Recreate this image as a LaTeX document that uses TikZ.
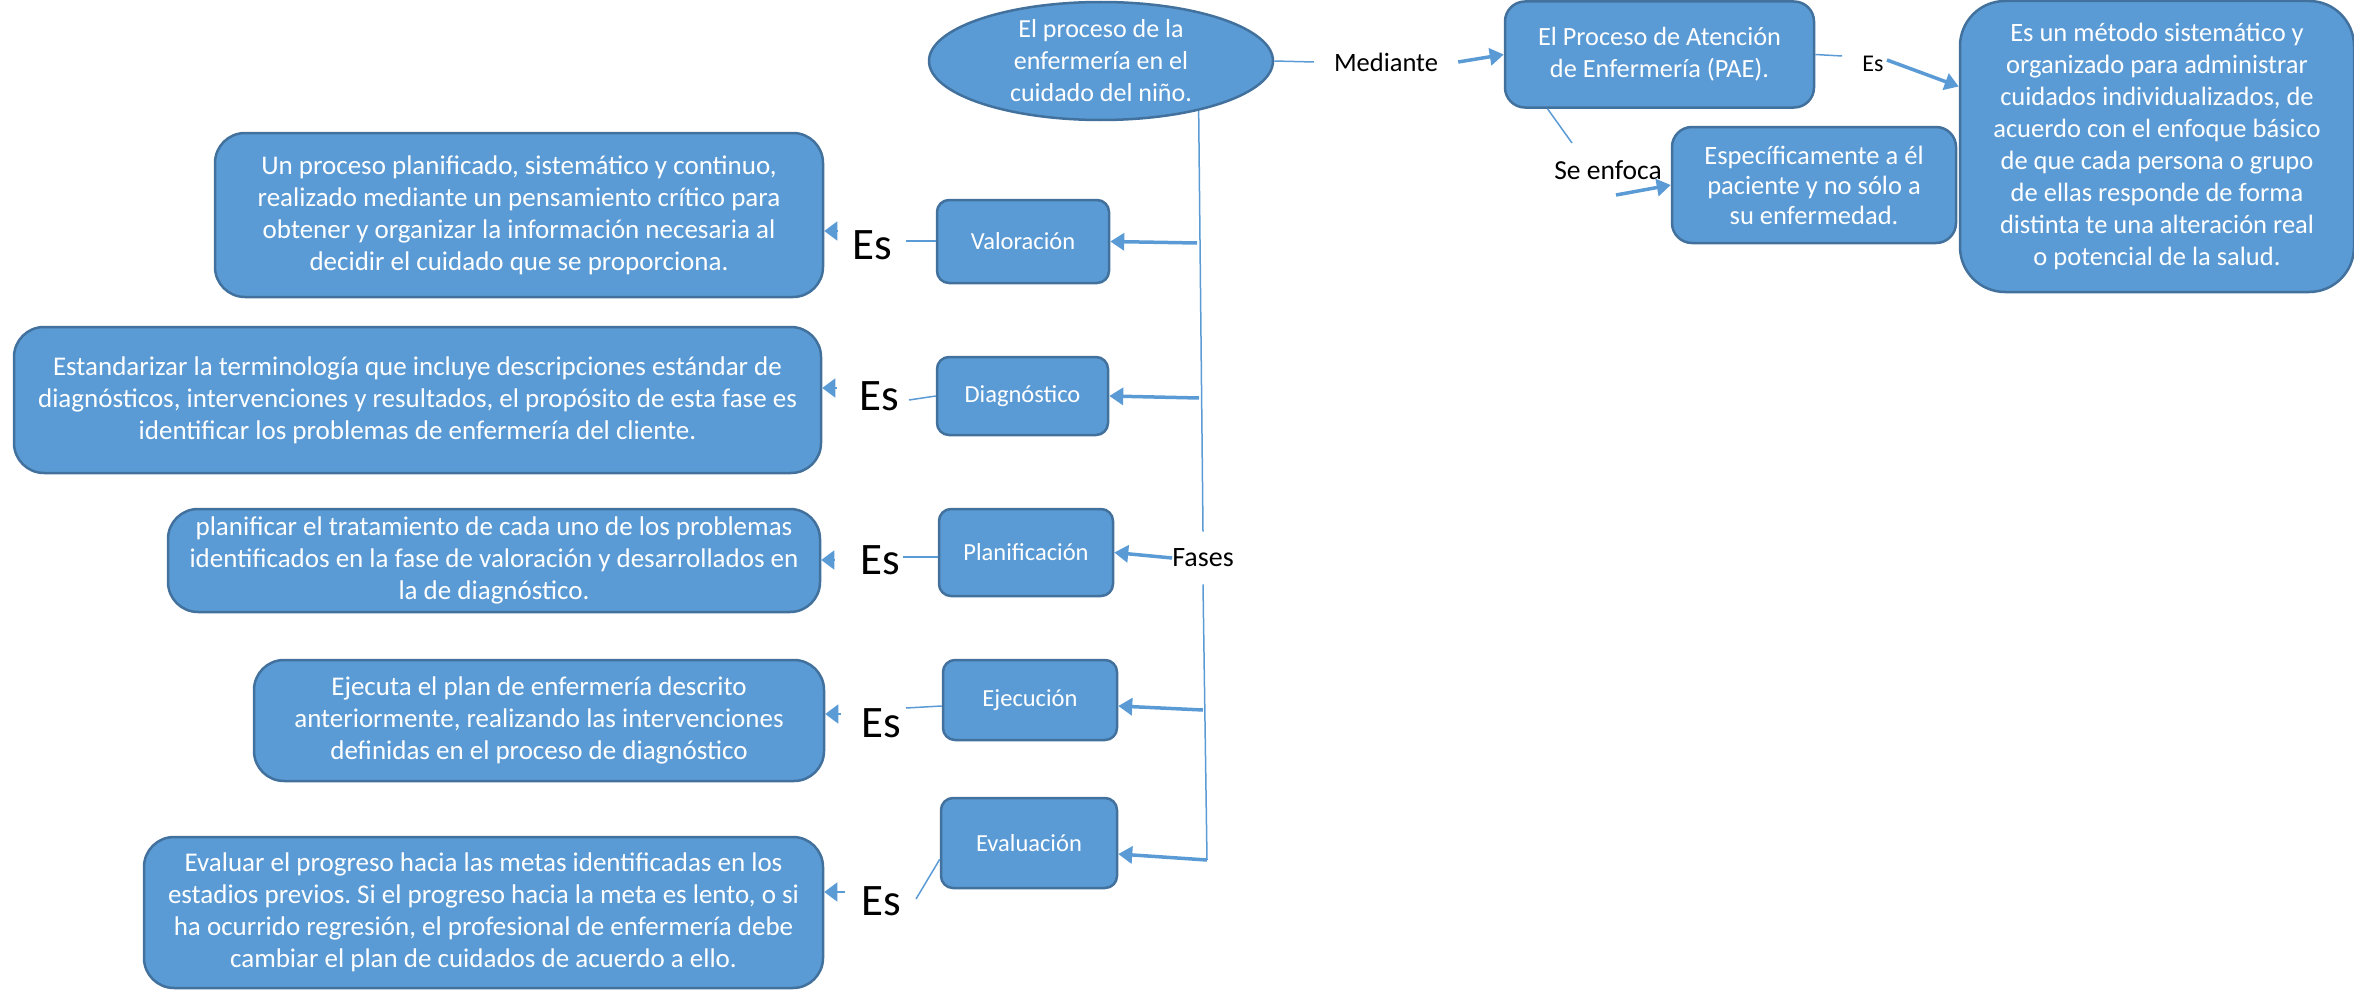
\documentclass[tikz,border=0pt]{standalone}
\usepackage{fontspec}
\setmainfont{Carlito}
\usetikzlibrary{shapes.geometric,arrows.meta,calc}
\definecolor{fillb}{RGB}{91,155,213}
\definecolor{edgeb}{RGB}{65,113,156}
\frenchspacing
\begin{document}
\begin{tikzpicture}[x=1pt,y=-1pt,
  box/.style={draw=edgeb, line width=2.5pt, fill=fillb, text=white, align=center, inner sep=0pt},
  descbox/.style={box, rounded corners=30pt, font=\fontsize{27}{32}\selectfont},
  phase/.style={box, rounded corners=12pt, font=\fontsize{24.5}{28}\selectfont},
  eslbl/.style={font=\fontsize{45}{48}\selectfont, inner sep=0pt},
  lbl/.style={font=\fontsize{26.5}{30}\selectfont, inner sep=0pt},
  thinline/.style={draw=fillb, line width=1.5pt},
  arr/.style={draw=fillb, line width=3.5pt, -{Triangle[length=14pt,width=17pt]}},
  tiponly/.style={draw=fillb, line width=1.5pt, -{Triangle[length=13pt,width=19pt]}}]
\useasboundingbox (0,0) rectangle (2354,990);

% top part
\node[box, ellipse, minimum width=344pt, minimum height=118pt, font=\fontsize{26}{32}\selectfont] (root) at (1101,61)
  {El proceso de la\\ enfermería en el\\ cuidado del niño.};
\node[lbl, inner xsep=20pt] (med) at (1386,62) {Mediante};
\node[box, rounded corners=20pt, minimum width=309pt, minimum height=106pt, font=\fontsize{26.3}{32}\selectfont] (pae) at (1659.5,54.5)
  {El Proceso de Atención\\ de Enfermería (PAE).};
\node[box, rounded corners=45pt, minimum width=394pt, minimum height=291pt, font=\fontsize{26.5}{32}\selectfont] (big) at (2157,146.5)
  {Es un método sistemático y\\ organizado para administrar\\ cuidados individualizados, de\\ acuerdo con el enfoque básico\\ de que cada persona o grupo\\ de ellas responde de forma\\ distinta te una alteración real\\ o potencial de la salud.};
\node[box, rounded corners=20pt, minimum width=284pt, minimum height=116pt, font=\fontsize{26.5}{30}\selectfont] (spec) at (1814,185)
  {Específicamente a él\\ paciente y no sólo a\\ su enfermedad.};
\node[lbl, font=\fontsize{24}{28}\selectfont] (esl) at (1873,64) {Es};
\node[lbl, font=\fontsize{27.5}{30}\selectfont] (senf) at (1608,170) {Se enfoca};

\coordinate (ce) at (1842,56);
\coordinate (cs) at (1887,60);
\coordinate (s2) at (1572,143);
\coordinate (s3) at (1616,195);

\draw[thinline] (root.east) -- (med.west);
\draw[arr] (med.east) -- (pae.west);
\draw[thinline] (pae.east) -- (ce);
\draw[arr] (cs) -- ([yshift=60pt]big.west);
\draw[thinline] ([xshift=-112pt]pae.south) -- (s2);
\draw[arr] (s3) -- (spec.west);

% phases
\node[phase, minimum width=172pt, minimum height=83pt] (p1) at (1023,241.5) {Valoración};
\node[phase, minimum width=171pt, minimum height=78pt] (p2) at (1022.5,396) {Diagnóstico};
\node[phase, minimum width=174pt, minimum height=87pt] (p3) at (1026,552.5) {Planificación};
\node[phase, minimum width=174pt, minimum height=80pt] (p4) at (1030,700) {Ejecución};
\node[phase, minimum width=176pt, minimum height=90pt] (p5) at (1029,843) {Evaluación};

\node[lbl, font=\fontsize{28}{30}\selectfont, inner ysep=17pt] (fases) at (1203,558) {Fases};
\coordinate (vb) at (1207,860);
\draw[thinline] (root.-27.5) -- (fases.north);
\draw[thinline] (fases.south) -- (vb);

\coordinate (v1) at (1197,243);
\coordinate (v2) at (1199,398);
\coordinate (v4) at (1203,710);
\draw[arr] (v1) -- (p1.east);
\draw[arr] (v2) -- (p2.east);
\draw[arr] (fases.west) -- (p3.east);
\draw[arr] (v4) -- ([yshift=-6pt]p4.east);
\draw[arr] (vb) -- ([yshift=-11pt]p5.east);

% descriptions
\node[descbox, minimum width=608pt, minimum height=164pt] (d1) at (519,215)
  {Un proceso planificado, sistemático y continuo,\\ realizado mediante un pensamiento crítico para\\ obtener y organizar la información necesaria al\\ decidir el cuidado que se proporciona.};
\node[descbox, minimum width=807pt, minimum height=146pt] (d2) at (417.5,400)
  {Estandarizar la terminología que incluye descripciones estándar de\\ diagnósticos, intervenciones y resultados, el propósito de esta fase es\\ identificar los problemas de enfermería del cliente.};
\node[descbox, minimum width=652pt, minimum height=103pt] (d3) at (494,560.5)
  {planificar el tratamiento de cada uno de los problemas\\ identificados en la fase de valoración y desarrollados en\\ la de diagnóstico.};
\node[descbox, minimum width=570pt, minimum height=121pt] (d4) at (539,720.5)
  {Ejecuta el plan de enfermería descrito\\ anteriormente, realizando las intervenciones\\ definidas en el proceso de diagnóstico};
\node[descbox, minimum width=679pt, minimum height=151pt] (d5) at (483.5,912.5)
  {Evaluar el progreso hacia las metas identificadas en los\\ estadios previos. Si el progreso hacia la meta es lento, o si\\ ha ocurrido regresión, el profesional de enfermería debe\\ cambiar el plan de cuidados de acuerdo a ello.};

% Es labels
\node[eslbl] (e1) at (872,245) {Es};
\node[eslbl] (e2) at (879,396) {Es};
\node[eslbl] (e3) at (880,560) {Es};
\node[eslbl] (e4) at (881,723) {Es};
\node[eslbl] (e5) at (881,901) {Es};

\coordinate (c1) at (906,241);
\coordinate (c2) at (909,400);
\coordinate (c3) at (903,557);
\coordinate (c4) at (906,708);
\coordinate (c5) at (916,899);
\draw[thinline] (c1) -- (c1 -| p1.west);
\draw[thinline] (c2) -- (p2.west);
\draw[thinline] (c3) -- (c3 -| p3.west);
\draw[thinline] (c4) -- ([yshift=-6pt]p4.west);
\draw[thinline] (c5) -- ([yshift=30pt]p5.south west);

\coordinate (t1) at (838,231);
\coordinate (t2) at (837,388);
\coordinate (t3) at (835,560);
\coordinate (t4) at (841,714);
\coordinate (t5) at (845,892);
\draw[tiponly] (t1) -- (t1 -| d1.east);
\draw[tiponly] (t2) -- (t2 -| d2.east);
\draw[tiponly] (t3) -- (t3 -| d3.east);
\draw[tiponly] (t4) -- (t4 -| d4.east);
\draw[tiponly] (t5) -- (t5 -| d5.east);
\end{tikzpicture}
\end{document}
